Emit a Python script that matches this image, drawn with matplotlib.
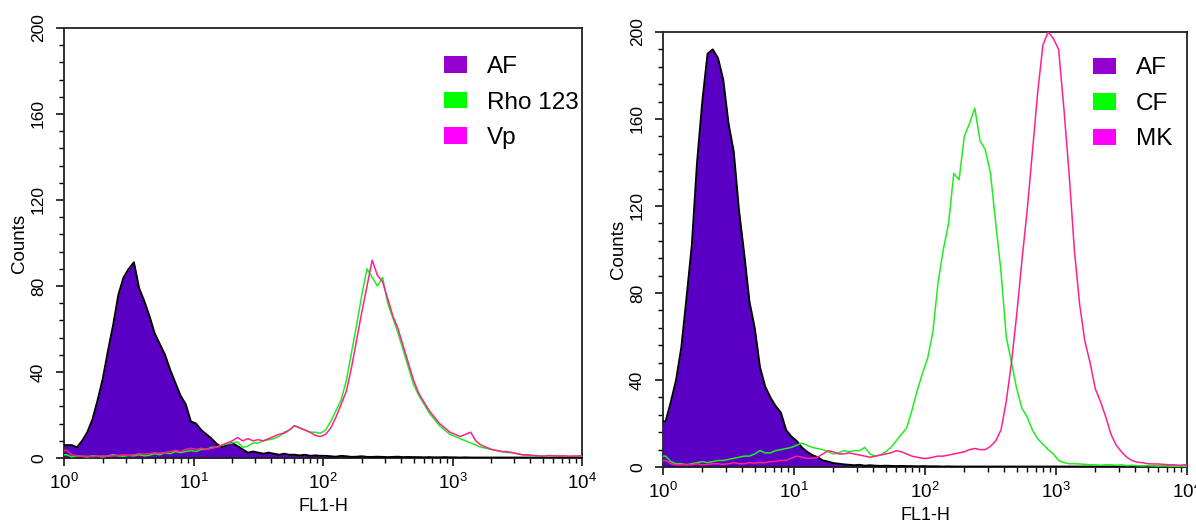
import numpy as np
import matplotlib
matplotlib.use("Agg")
import matplotlib.pyplot as plt
from matplotlib.patches import Patch
from matplotlib.ticker import FixedLocator, NullFormatter

plt.rcParams['font.family'] = ['Liberation Sans', 'DejaVu Sans']
plt.rcParams['mathtext.fontset'] = 'custom'
plt.rcParams['mathtext.rm'] = 'Liberation Sans'
plt.rcParams['mathtext.it'] = 'Liberation Sans:italic'
plt.rcParams['mathtext.bf'] = 'Liberation Sans:bold'

# ---------------- data (counts per channel, 100 log channels over 10^0..10^4) -------------
n_channels = 100
decades = 4

left_af = [6, 6, 5, 8, 12, 18, 27, 37, 50, 62,
           76, 84, 88, 91, 79, 73, 66, 58, 53, 48,
           41, 35, 29, 25, 17, 16, 13, 11, 9, 6.5,
           5, 6, 7, 5.5, 4, 2.5, 3, 2.5, 2, 2.5,
           2, 1.5, 2, 1.5, 1.5, 1.2, 1.5, 1, 1.2, 1,
           1, 0.8, 0.6, 1, 0.8, 0.5, 0.6, 0.8, 0.5, 0.5,
           0.6, 0.5, 0.4, 0.5, 0.6, 0.4, 0.5, 0.4, 0.4, 0.3,
           0.4, 0.3, 0.3, 0.4, 0.3, 0.3, 0.2, 0.3, 0.2, 0.2,
           0.2, 0.2, 0.2, 0.2, 0.2, 0.2, 0.2, 0.2, 0.2, 0.2,
           0.2, 0.2, 0.2, 0.2, 0.2, 0.2, 0.2, 0.2, 0.2, 0.2]
left_rho = [1.5, 0.5, 1, 0.8, 0.5, 1, 0.8, 0.5, 1, 1.5,
            1, 0.8, 1.2, 1, 1.5, 1, 1.3, 2, 1.5, 2.5,
            2, 3, 2.5, 3, 3.5, 3, 4, 4, 5, 5,
            6, 6.5, 7, 7.5, 5, 5.5, 7, 7, 8, 8.5,
            9, 10, 12, 13, 15, 14, 13, 12, 12, 11.5,
            13, 17, 22, 27, 36, 49, 62, 76, 88, 84,
            80, 84, 72, 65, 58, 50, 42, 34, 29, 25,
            21, 18, 15, 13, 11, 10, 9, 8, 7, 6,
            5, 4.5, 4, 3.5, 3, 2.5, 2.5, 2, 1.5, 1.2,
            1, 0.8, 1, 0.8, 1, 1.2, 0.8, 0.8, 1, 0.8]
left_vp = [3.5, 1.5, 1, 0.8, 0.8, 0.6, 0.8, 1, 0.8, 1,
           1.2, 1.5, 1.2, 1.5, 2, 1.8, 2, 2.5, 2.2, 2.5,
           3, 3.5, 3, 4, 4.5, 4, 4.5, 4, 4.5, 5,
           6, 7, 8, 9.5, 8, 9, 8, 8.5, 8, 9,
           10, 11, 11.5, 13, 15, 14, 13, 12, 10.5, 10,
           11, 14, 19, 25, 31, 42, 55, 68, 80, 92,
           85, 82, 74, 66, 60, 52, 44, 36, 30, 26,
           22, 19, 16, 14, 12, 11, 10, 11, 12, 8,
           6, 5, 4, 3.5, 3, 3, 2.5, 2, 1.5, 1.5,
           1.2, 1, 0.8, 1.2, 1, 0.8, 1, 0.8, 0.8, 1]

right_af = [21, 30, 40, 55, 78, 102, 140, 168, 190, 192,
            188, 178, 158, 145, 118, 98, 76, 64, 46, 37,
            32, 28, 25, 17, 14, 12, 9, 7, 5.5, 4.5,
            3, 2.5, 1.8, 1.5, 1.2, 1, 0.8, 1, 0.6, 0.8,
            0.6, 0.5, 0.6, 0.5, 0.4, 0.5, 0.4, 0.4, 0.3, 0.4,
            0.3, 0.3, 0.3, 0.2, 0.3, 0.2, 0.2, 0.2, 0.2, 0.2,
            0.2, 0.2, 0.2, 0.2, 0.2, 0.2, 0.2, 0.2, 0.2, 0.2,
            0.2, 0.2, 0.2, 0.2, 0.2, 0.2, 0.2, 0.2, 0.2, 0.2,
            0.2, 0.2, 0.2, 0.2, 0.2, 0.2, 0.2, 0.2, 0.2, 0.2,
            0.2, 0.2, 0.2, 0.2, 0.2, 0.2, 0.2, 0.2, 0.2, 0.2]
right_cf = [5, 2.5, 1.5, 1.5, 1, 1.5, 2, 2.5, 2, 2.5,
            3, 3, 3.5, 4, 4.5, 5, 5, 6, 7.5, 6.5,
            6.5, 7.5, 8, 8.5, 9, 10, 11, 10, 9, 8.5,
            8, 7, 6, 6.5, 7.5, 7, 7.5, 7.5, 9, 6,
            5, 5.5, 7, 9, 12, 15, 18, 26, 35, 43,
            50, 62, 85, 100, 112, 135, 132, 152, 158, 165,
            150, 146, 135, 112, 90, 60, 48, 36, 27, 23,
            17, 13, 10.5, 8, 6, 3, 2, 1.5, 1.5, 1.4,
            1.2, 1, 1, 0.8, 1, 1, 0.8, 1, 0.6, 0.8,
            0.6, 0.5, 0.6, 0.5, 0.4, 0.5, 0.4, 0.3, 0.3, 0.3]
right_mk = [3, 1.5, 1, 1, 1.2, 1, 1.5, 1, 1.2, 1.5,
            1.5, 1.2, 1.5, 2, 1.5, 1.5, 2, 1.8, 2, 2,
            2.5, 2.5, 3, 3, 4, 5, 4.5, 4, 4, 4.5,
            6, 7.5, 7, 6, 6, 6.5, 6, 5.5, 5, 4.5,
            5, 5.5, 6, 6.5, 7.5, 7, 6, 5, 4.5, 4,
            4, 4.5, 5, 5, 5.5, 6, 6.5, 7, 8, 8.5,
            8, 8, 9.5, 12, 17, 30, 48, 70, 95, 118,
            145, 172, 194, 200, 197, 192, 165, 135, 100, 75,
            58, 48, 36, 30, 23, 15, 10, 7, 4.5, 3,
            2.2, 2, 1.5, 1.4, 1.4, 1.2, 1, 1, 0.8, 1]

left_labels = ['AF', 'Rho 123', 'Vp']
right_labels = ['AF', 'CF', 'MK']
y_ticks = [0, 40, 80, 120, 160, 200]
x_tick_labels = [r'$\mathregular{10^{0}}$', r'$\mathregular{10^{1}}$', r'$\mathregular{10^{2}}$',
                 r'$\mathregular{10^{3}}$', r'$\mathregular{10^{4}}$']
x_label = 'FL1-H'
y_label = 'Counts'

# ---------------- styles ----------------
AF_FILL = '#5A00C4'
GREEN = '#1EEE1E'
PINK = '#FF2090'
LEG_AF = '#9400CC'
LEG_GREEN = '#00FF00'
LEG_PINK = '#FF00FF'

edges = 10 ** np.linspace(0, decades, n_channels + 1)
centers = np.sqrt(edges[:-1] * edges[1:])
# curve x positions: axis start, channel centres, axis end
xs = np.concatenate([[edges[0]], centers, [edges[-1]]])


def curve(vals):
    v = list(vals)
    return np.array([v[0]] + v + [v[-1]])


fig = plt.figure(figsize=(11.96, 5.23), dpi=100)
ax_l = fig.add_axes([64 / 1196, 1 - 458 / 523, (582 - 64) / 1196, (458 - 28) / 523])
ax_r = fig.add_axes([663 / 1196, 1 - 467 / 523, (1187 - 663) / 1196, (467 - 32) / 523])


def style_axes(ax):
    ax.set_xscale('log')
    ax.set_xlim(1, 10 ** decades)
    ax.set_ylim(0, 200)
    ax.set_yticks(y_ticks)
    ax.set_yticklabels([str(v) for v in y_ticks], rotation=90, va='center', fontsize=12.5)
    ax.yaxis.set_minor_locator(FixedLocator(np.arange(0, 201, 8)))
    ax.set_xticks([10 ** k for k in range(decades + 1)])
    ax.set_xticklabels(x_tick_labels, fontsize=13.5)
    ax.xaxis.set_minor_locator(FixedLocator([m * 10 ** k for k in range(decades) for m in range(2, 10)]))
    ax.xaxis.set_minor_formatter(NullFormatter())
    ax.tick_params(axis='both', which='major', direction='out', length=6, width=1.1, color='black')
    ax.tick_params(axis='both', which='minor', direction='out', length=3.5, width=1.0, color='black')
    ax.tick_params(axis='y', which='major', pad=7)
    ax.tick_params(axis='x', which='major', pad=5)
    for sp in ax.spines.values():
        sp.set_linewidth(1.3)
        sp.set_color('#222222')
    ax.set_xlabel(x_label, fontsize=13, labelpad=3)
    ax.set_ylabel(y_label, fontsize=13.5, labelpad=2)


def draw(ax, af, s2, s3, labels, anchor):
    ax.fill_between(xs, 0, curve(af), color=AF_FILL, linewidth=0, zorder=2)
    ax.plot(xs, curve(af), color='black', linewidth=1.4, zorder=3)
    ax.plot(xs, curve(s2), color=GREEN, linewidth=1.1, zorder=4)
    ax.plot(xs, curve(s3), color=PINK, linewidth=1.1, zorder=5)
    handles = [Patch(facecolor=LEG_AF, edgecolor='none'),
               Patch(facecolor=LEG_GREEN, edgecolor='none'),
               Patch(facecolor=LEG_PINK, edgecolor='none')]
    ax.legend(handles, labels, loc='upper left', bbox_to_anchor=anchor, frameon=False,
              fontsize=17.5, handlelength=0.95, handleheight=0.66, handletextpad=0.82,
              labelspacing=0.56, borderpad=0, borderaxespad=0)


style_axes(ax_l)
style_axes(ax_r)
draw(ax_l, left_af, left_rho, left_vp, left_labels, (0.734, 0.935))
draw(ax_r, right_af, right_cf, right_mk, right_labels, (0.821, 0.942))

fig.savefig('out.png', dpi=100)
